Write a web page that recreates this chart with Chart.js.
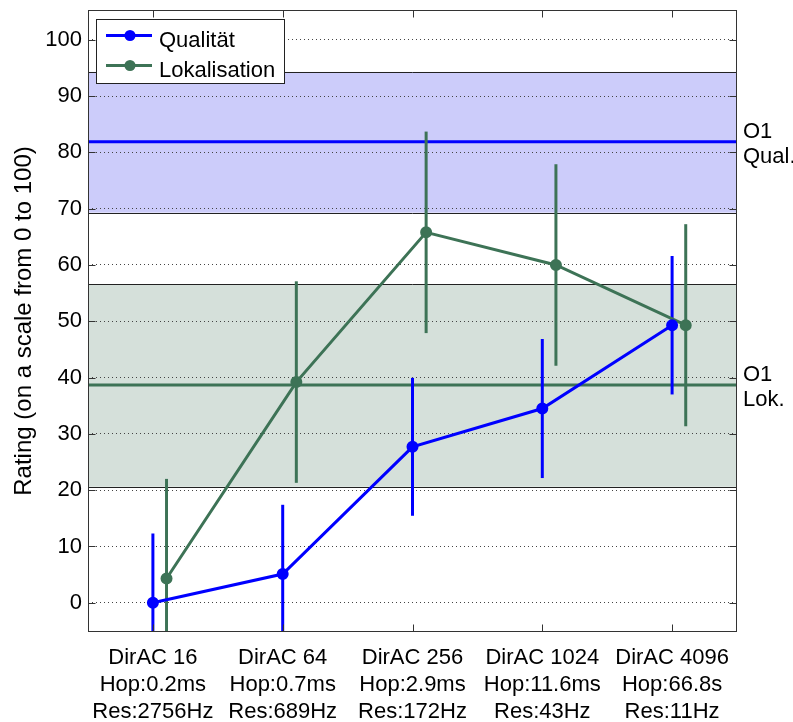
<!DOCTYPE html>
<html>
<head>
<meta charset="utf-8">
<script src="https://cdn.jsdelivr.net/npm/chart.js@4/dist/chart.umd.min.js"></script>
<style>
  body { margin: 0; background: #fff; }
  #c { display: block; }
</style>
</head>
<body>
<canvas id="c" width="793" height="722"></canvas>
<script>
// categories (x tick labels, one line per entry)
const categories = [
  ['DirAC 16', 'Hop:0.2ms', 'Res:2756Hz'],
  ['DirAC 64', 'Hop:0.7ms', 'Res:689Hz'],
  ['DirAC 256', 'Hop:2.9ms', 'Res:172Hz'],
  ['DirAC 1024', 'Hop:11.6ms', 'Res:43Hz'],
  ['DirAC 4096', 'Hop:66.8s', 'Res:11Hz']
];
const yTicks = [0, 10, 20, 30, 40, 50, 60, 70, 80, 90, 100];

// series: mean rating and half-width of the error bar
const qualMean = [0, 5.1, 27.7, 34.5, 49.3];
const qualErr = [12.3, 12.3, 12.25, 12.35, 12.3];
const lokMean = [4.3, 39.2, 65.8, 60.0, 49.3];
const lokErr = [17.7, 17.9, 17.9, 17.9, 17.95];

// reference condition O1: mean and band
const refNames = [['O1', 'Qual.'], ['O1', 'Lok.']];
const refMean = [81.9, 38.7];
const refLow = [69.3, 20.6];
const refHigh = [94.3, 56.6];

const BLUE = '#0000ff';
const GREEN = '#3d7356';
const bandFill = ['#ccccfa', '#d5e0da'];
const refColor = [BLUE, GREEN];
const FONT = '"Liberation Sans", Arial, sans-serif';

// small shift so the two series don't sit on top of each other
const qualShift = 0;
const lokShift = 0.105;

const qualPts = qualMean.map((v, i) => ({ x: i + qualShift, y: v }));
const lokPts = lokMean.map((v, i) => ({ x: i + lokShift, y: v }));

// bands + their outlines, under the grid
const bandsPlugin = {
  id: 'bands',
  beforeDraw(chart) {
    const { ctx, chartArea: a, scales: { y } } = chart;
    ctx.save();
    refMean.forEach((m, i) => {
      const top = y.getPixelForValue(refHigh[i]);
      const bot = y.getPixelForValue(refLow[i]);
      ctx.fillStyle = bandFill[i];
      ctx.fillRect(a.left, top, a.right - a.left, bot - top);
      ctx.strokeStyle = '#222';
      ctx.lineWidth = 1;
      ctx.beginPath();
      ctx.moveTo(a.left, Math.round(top) + 0.5);
      ctx.lineTo(a.right, Math.round(top) + 0.5);
      ctx.moveTo(a.left, Math.round(bot) + 0.5);
      ctx.lineTo(a.right, Math.round(bot) + 0.5);
      ctx.stroke();
    });
    ctx.restore();
  },
  beforeDatasetsDraw(chart) {
    const { ctx, chartArea: a, scales: { x, y } } = chart;
    ctx.save();
    // O1 mean lines
    refMean.forEach((m, i) => {
      const py = y.getPixelForValue(m);
      ctx.strokeStyle = refColor[i];
      ctx.lineWidth = 3;
      ctx.beginPath();
      ctx.moveTo(a.left, py);
      ctx.lineTo(a.right, py);
      ctx.stroke();
    });
    // error bars, clipped to the plot box
    ctx.beginPath();
    ctx.rect(a.left, a.top, a.right - a.left, a.bottom - a.top);
    ctx.clip();
    const bars = [[lokPts, lokErr, GREEN], [qualPts, qualErr, BLUE]];
    bars.forEach(([pts, err, col]) => {
      ctx.strokeStyle = col;
      ctx.lineWidth = 3;
      pts.forEach((p, i) => {
        const px = x.getPixelForValue(p.x);
        ctx.beginPath();
        ctx.moveTo(px, y.getPixelForValue(p.y - err[i]));
        ctx.lineTo(px, y.getPixelForValue(p.y + err[i]));
        ctx.stroke();
      });
    });
    ctx.restore();
  },
  afterDraw(chart) {
    const { ctx, chartArea: a, scales: { x, y } } = chart;
    ctx.save();
    // frame and inside ticks
    ctx.strokeStyle = '#333';
    ctx.lineWidth = 1;
    const L = Math.round(a.left) + 0.5, R = Math.round(a.right) - 0.5;
    const T = Math.round(a.top) + 0.5, B = Math.round(a.bottom) - 0.5;
    ctx.strokeRect(L, T, R - L, B - T);
    ctx.beginPath();
    yTicks.forEach(v => {
      const py = Math.round(y.getPixelForValue(v)) + 0.5;
      ctx.moveTo(L, py); ctx.lineTo(L + 7, py);
      ctx.moveTo(R, py); ctx.lineTo(R - 7, py);
    });
    categories.forEach((c, i) => {
      const px = Math.round(x.getPixelForValue(i)) + 0.5;
      ctx.moveTo(px, B); ctx.lineTo(px, B - 7);
      ctx.moveTo(px, T); ctx.lineTo(px, T + 7);
    });
    ctx.stroke();

    // O1 labels on the right
    ctx.fillStyle = '#000';
    ctx.font = '22px ' + FONT;
    ctx.textAlign = 'left';
    ctx.textBaseline = 'alphabetic';
    refMean.forEach((m, i) => {
      const py = y.getPixelForValue(m);
      ctx.fillText(refNames[i][0], a.right + 6, py - 3.5);
      ctx.fillText(refNames[i][1], a.right + 6, py + 21.5);
    });

    // legend box
    const lx = 96.5, ly = 19.5, lw = 188, lh = 64;
    ctx.fillStyle = '#fff';
    ctx.fillRect(lx, ly, lw, lh);
    ctx.strokeStyle = '#222';
    ctx.strokeRect(lx, ly, lw, lh);
    chart.data.datasets.forEach((ds, i) => {
      const cy = 35.5 + i * 30;
      ctx.strokeStyle = ds.borderColor;
      ctx.lineWidth = 3;
      ctx.beginPath();
      ctx.moveTo(106, cy);
      ctx.lineTo(152, cy);
      ctx.stroke();
      ctx.fillStyle = ds.borderColor;
      ctx.beginPath();
      ctx.arc(130, cy, 5.5, 0, Math.PI * 2);
      ctx.fill();
      ctx.fillStyle = '#000';
      ctx.fillText(ds.label, 159, cy + 11);
    });
    ctx.restore();
  }
};

new Chart(document.getElementById('c'), {
  type: 'line',
  data: {
    datasets: [{
      label: 'Qualität',
      data: qualPts,
      borderColor: BLUE,
      backgroundColor: BLUE,
      borderWidth: 3,
      pointRadius: 5,
      pointBorderWidth: 2,
      pointBackgroundColor: BLUE,
      pointBorderColor: BLUE,
      fill: false
    },
    {
      label: 'Lokalisation',
      data: lokPts,
      borderColor: GREEN,
      backgroundColor: GREEN,
      borderWidth: 3,
      pointRadius: 5,
      pointBorderWidth: 2,
      pointBackgroundColor: GREEN,
      pointBorderColor: GREEN,
      fill: false
    }]
  },
  options: {
    responsive: false,
    animation: false,
    layout: { padding: { top: 10, right: 56, left: 0, bottom: 0 } },
    plugins: {
      legend: { display: false },
      tooltip: { enabled: false }
    },
    scales: {
      x: {
        type: 'linear',
        min: -0.5,
        max: 4.5,
        afterBuildTicks: s => { s.ticks = categories.map((c, i) => ({ value: i })); },
        afterFit: s => { s.height = 90; s.paddingLeft = 0; s.paddingRight = 0; },
        grid: { display: false, drawTicks: false },
        border: { display: false },
        ticks: {
          padding: 13,
          color: '#000',
          maxRotation: 0,
          autoSkip: false,
          font: { family: FONT, size: 22, lineHeight: 1.21 },
          callback: v => categories[v]
        }
      },
      y: {
        min: -5.2,
        max: 105.3,
        afterBuildTicks: s => { s.ticks = yTicks.map(v => ({ value: v })); },
        afterFit: s => { s.width = 88; s.paddingTop = 0; s.paddingBottom = 0; },
        grid: { color: '#444', lineWidth: 1, drawTicks: false },
        border: { display: false, dash: [1, 3] },
        ticks: {
          padding: 6,
          color: '#000',
          font: { family: FONT, size: 22 }
        },
        title: {
          display: true,
          text: 'Rating (on a scale from 0 to 100)',
          color: '#000',
          font: { family: FONT, size: 24 },
          padding: { top: 10, bottom: 0 }
        }
      }
    }
  },
  plugins: [bandsPlugin]
});
</script>
</body>
</html>
